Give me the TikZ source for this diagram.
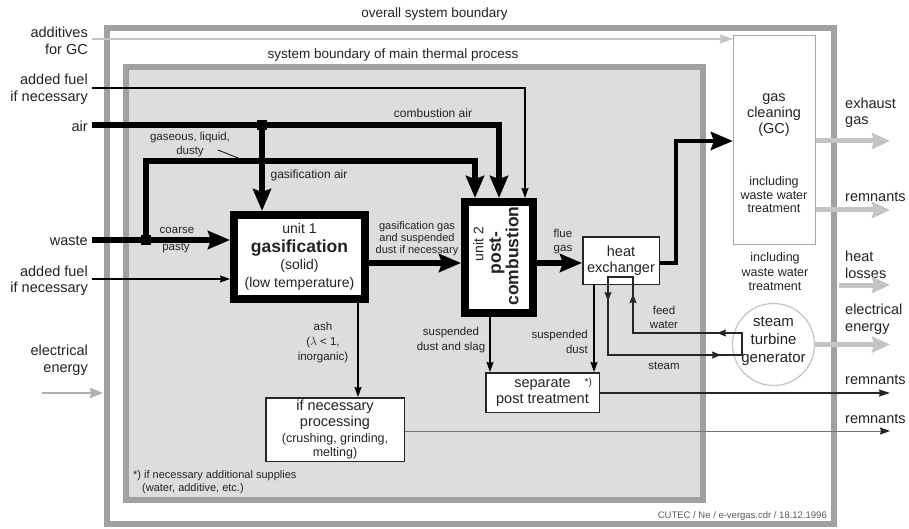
\documentclass[tikz,border=0pt]{standalone}
\usepackage{fontspec}
\setmainfont{Liberation Sans}
\usetikzlibrary{arrows.meta}
\definecolor{bnd}{RGB}{160,160,160}
\definecolor{infill}{RGB}{221,221,221}
\definecolor{lgray}{RGB}{196,196,196}
\definecolor{txt}{RGB}{35,35,35}
\newcommand{\cbox}[2]{\begin{minipage}{#1}\centering #2\end{minipage}}
\begin{document}
\begin{tikzpicture}[x=1pt,y=-1pt,
  lbl/.style={font=\fontsize{14.5}{16.5}\selectfont, text=txt, inner sep=0pt, align=center},
  sml/.style={font=\fontsize{11.5}{14.5}\selectfont, text=txt, inner sep=0pt, align=center},
  unitbox/.style={draw=black, line width=8pt, fill=white, inner sep=0pt, text=txt},
  box/.style={draw=black!85, line width=1.5pt, fill=white, inner sep=0pt, align=center, text=txt, font=\fontsize{14.5}{16}\selectfont},
  thickflow/.style={draw=black, line width=5.5pt, -{Stealth[length=22pt,width=18pt,inset=3pt]}},
  thinflow/.style={draw=black, line width=1.3pt, -{Stealth[length=10pt,width=7pt,inset=1pt]}},
  loopline/.style={draw=black!85, line width=1.4pt},
  looptip/.style={draw=black!85, line width=1.4pt, -{Stealth[length=9pt,width=7pt,inset=1pt]}},
  grayflow/.style={draw=lgray, line width=5pt, -{Stealth[length=18pt,width=16pt,inset=2pt]}},
  addflow/.style={draw=lgray, line width=2pt, -{Stealth[length=13pt,width=9pt,inset=1pt]}},
  elflow/.style={draw=lgray!90!black, line width=2.5pt, -{Stealth[length=13pt,width=10pt,inset=1pt]}},
  remflow/.style={draw=black!85, line width=1.5pt, -{Stealth[length=11pt,width=7pt,inset=1pt]}},
  remflowb/.style={draw=black!55, line width=1pt, -{Stealth[length=10pt,width=7pt,inset=1pt,color=black!85]}},
]
\useasboundingbox (0,0) rectangle (909,529);
\fill[white] (0,0) rectangle (909,529);

% boundaries
\draw[bnd, line width=6pt] (107,28) rectangle (834,524);
\draw[bnd, line width=6pt, fill=infill] (126,67) rectangle (703,500);
\node[lbl, font=\fontsize{13.5}{15}\selectfont] (tOverall) at (434.5,14) {overall system boundary};
\node[lbl, font=\fontsize{13.5}{15}\selectfont] (tMain) at (393,55) {system boundary of main thermal process};

% main nodes
\node[unitbox, minimum width=131, minimum height=84] (gasif) at (299.5,257)
  {\cbox{125pt}{\fontsize{14}{17}\selectfont unit 1\par
   \fontsize{17.5}{19}\selectfont\bfseries gasification\par
   \fontsize{14}{17.5}\selectfont\mdseries (solid)\par
   \fontsize{14}{18}\selectfont (low temperature)}};
\node[unitbox, minimum width=68, minimum height=111] (postc) at (499,257.5) {};
\node[rotate=90, inner sep=0pt, text=txt] (postcT) at (496,256)
  {\cbox{110pt}{\fontsize{14}{17}\selectfont\hspace*{24pt}unit 2\par
   \fontsize{17.5}{17.5}\selectfont\bfseries\hspace*{6pt}post-\par
   combustion}};
\node[box, minimum width=76.5, minimum height=47.5] (hx) at (621,260.5) {heat\\exchanger};
\node[draw=lgray!85!black, line width=1.2pt, fill=white, minimum width=82, minimum height=209] (gc) at (774.5,140) {};
\node[lbl, font=\fontsize{14.5}{16}\selectfont] (gcT) at (774,115) {gas\\cleaning\\(GC)};
\node[sml, font=\fontsize{12.5}{13.5}\selectfont] (gcT2) at (774,195) {including\\waste water\\treatment};
\node[sml, font=\fontsize{12.5}{14.5}\selectfont] (gcT3) at (775,272) {including\\waste water\\treatment};
\node[circle, draw=lgray, line width=1.2pt, minimum size=82, inner sep=0pt] (stg) at (773.5,344.5) {};
\node[lbl, font=\fontsize{15}{18}\selectfont] (stgT) at (773.5,341) {steam\\turbine\\generator};
\node[box, minimum width=113.5, minimum height=39.5] (sep) at (542.5,392.5)
  {separate\rlap{\hspace{14pt}\raisebox{2pt}{\fontsize{10}{10}\selectfont *)}}\\post treatment};
\node[box, minimum width=138.5, minimum height=63.5, align=none] (proc) at (335,429.5)
  {\cbox{136pt}{\fontsize{14.5}{16}\selectfont if necessary\par
   processing\par
   \fontsize{12.5}{16.5}\selectfont (crushing, grinding,\par
   \fontsize{12.5}{13.5}\selectfont melting)}};

% left labels
\node[lbl, anchor=east, align=right] (lAdd) at (88,41) {additives\\for GC};
\node[lbl, anchor=east, align=right] (lFuel1) at (88,89.5) {added fuel\\if necessary};
\node[lbl, anchor=east] (lAir) at (88,126) {air};
\node[lbl, anchor=east] (lWaste) at (88,241) {waste};
\node[lbl, anchor=east, align=right] (lFuel2) at (88,281) {added fuel\\if necessary};
\node[lbl, anchor=east, align=right] (lEl) at (88,360) {electrical\\energy};

% right labels
\node[lbl, anchor=west, align=left] (rExh) at (845,113) {exhaust\\gas};
\node[lbl, anchor=west, align=left] (rRem1) at (845,197) {remnants};
\node[lbl, anchor=west, align=left] (rHeat) at (845,265) {heat\\losses};
\node[lbl, anchor=west, align=left] (rEl) at (845,319) {electrical\\energy};
\node[lbl, anchor=west, align=left] (rRem2) at (845,380) {remnants};
\node[lbl, anchor=west, align=left] (rRem3) at (845,419) {remnants};

% small labels
\node[sml, font=\fontsize{12}{14}\selectfont] (tCair) at (433,113) {combustion air};
\node[sml, font=\fontsize{12}{14}\selectfont] (tGair) at (309,175) {gasification air};
\node[sml, font=\fontsize{11.5}{14}\selectfont] (tGas) at (190,145) {gaseous, liquid,\\dusty};
\node[sml] (tCoarse) at (177,230) {coarse};
\node[sml] (tPasty) at (176,248) {pasty};
\node[sml, font=\fontsize{11}{12}\selectfont] (tGgas) at (417,238.5) {gasification gas\\and suspended\\dust if necessary};
\node[sml, font=\fontsize{11.5}{13.5}\selectfont] (tFlue) at (563,241.5) {flue\\gas};
\node[sml, font=\fontsize{11.5}{15}\selectfont] (tAsh) at (323,343) {ash\\($\lambda$ < 1,\\inorganic)};
\node[sml, font=\fontsize{11.5}{15}\selectfont] (tSds) at (451,340.5) {suspended\\dust and slag};
\node[sml, font=\fontsize{11.5}{15}\selectfont, anchor=east, align=right] (tSd) at (588,342) {suspended\\dust};
\node[sml, font=\fontsize{11.5}{14}\selectfont] (tFeed) at (664,317) {feed\\water};
\node[sml, font=\fontsize{11.5}{14}\selectfont] (tSteam) at (664,366) {steam};
\node[sml, font=\fontsize{11}{13}\selectfont, anchor=west, align=left] (tFoot) at (133,482.5) {*) if necessary additional supplies\\\hspace*{9pt}(water, additive, etc.)};
\node[sml, font=\fontsize{9.5}{11}\selectfont, text=black!65, anchor=east] (tCutec) at (827,516) {CUTEC / Ne / e-vergas.cdr / 18.12.1996};

% connectors: added fuel (top)
\coordinate (fuelA) at (92,88);
\coordinate (fuelB) at (525,88);
\draw[thinflow] (fuelA) -- (fuelB) -- (fuelB |- postc.north);

% air
\coordinate (airA) at (92,125);
\coordinate (airJ) at (262,125);
\coordinate (airB) at (499,125);
\draw[thickflow] (airA) -- (airB) -- (airB |- postc.north);
\draw[thickflow] (airJ) -- (airJ |- gasif.north);
\fill[black] (airJ) +(-5,-5) rectangle +(5,5);

% waste
\coordinate (wasteA) at (92,240);
\coordinate (wasteJ) at (146,240);
\coordinate (gasB) at (475,161);
\draw[thickflow] (wasteA) -- (wasteA -| gasif.west);
\draw[thickflow] (wasteJ) -- (wasteJ |- gasB) -- (gasB) -- (gasB |- postc.north);
\fill[black] (wasteJ) +(-5,-5) rectangle +(5,5);
\draw[line width=0.8pt] (218,150) -- (243,160);

% added fuel (lower)
\coordinate (fuel2A) at (92,279);
\draw[thinflow] (fuel2A) -- (fuel2A -| gasif.west);

% main gas path
\coordinate (mainY) at (0,263);
\coordinate (gcY) at (676,141);
\draw[thickflow] (gasif.east |- mainY) -- (postc.west |- mainY);
\draw[thickflow] (postc.east |- mainY) -- (hx.west |- mainY);
\draw[thickflow, line width=4.5pt] (hx.east |- mainY) -- (gcY |- mainY) -- (gcY) -- (gcY -| gc.west);

% ash and dust
\coordinate (ashX) at (358,0);
\coordinate (sdX) at (490,0);
\coordinate (sd2X) at (594,0);
\draw[thinflow, line width=1.2pt] (ashX |- gasif.south) -- (ashX |- proc.north);
\draw[thinflow, line width=1.2pt] (sdX |- postc.south) -- (sdX |- sep.north);
\draw[thinflow, line width=1.2pt] (sd2X |- hx.south) -- (sd2X |- sep.north);

% water / steam loop
\coordinate (lpL) at (608,277);
\coordinate (lpR) at (633,277);
\coordinate (stY) at (742,355);
\coordinate (fwY) at (742,333);
\draw[loopline] (lpR) -- (lpL) -- (lpL |- stY) -- (stY) -- (fwY) -- (lpR |- fwY) -- cycle;
\draw[looptip] (lpL) -- (608,301);
\draw[looptip] (700,355) -- (721,355);
\draw[looptip] (fwY) -- (717,333);
\draw[looptip] (lpR |- fwY) -- (633,294);

% remnants
\coordinate (remA) at (890,393);
\coordinate (remB) at (890,431);
\draw[remflow] (sep.east |- remA) -- (remA);
\draw[remflowb] (proc.east |- remB) -- (remB);

% gas cleaning outputs and energy
\coordinate (exh) at (890,141);
\coordinate (rem0) at (890,210);
\coordinate (hlA) at (839,285);
\coordinate (hlB) at (890,285);
\coordinate (elB) at (890,344.5);
\draw[grayflow] (gc.east |- exh) -- (exh);
\draw[grayflow] (gc.east |- rem0) -- (rem0);
\draw[grayflow] (hlA) -- (hlB);
\draw[grayflow] (stg.east) -- (elB);

% gray inputs
\coordinate (addA) at (92,39);
\coordinate (elA) at (42,393);
\coordinate (elI) at (103,393);
\draw[addflow] (addA) -- (addA -| gc.west);
\draw[elflow] (elA) -- (elI);
\end{tikzpicture}
\end{document}
